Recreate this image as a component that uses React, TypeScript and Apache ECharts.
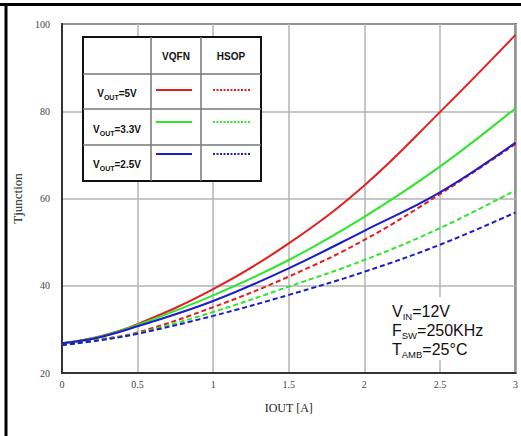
import React, { useEffect, useRef } from "react";
import * as echarts from "echarts";

const currents = [0, 0.25, 0.5, 1, 1.5, 2, 2.5, 3];
const vqfn5V = [26.8, 28.4, 31.2, 39.2, 49.7, 63.0, 79.8, 97.5];
const vqfn33V = [26.8, 28.3, 31.0, 37.8, 45.9, 55.8, 67.3, 80.7];
const vqfn25V = [26.8, 28.2, 30.7, 36.5, 44.0, 52.6, 61.4, 72.8];
const hsop5V = [26.4, 27.7, 29.3, 35.1, 42.1, 50.5, 61.0, 72.5];
const hsop33V = [26.4, 27.6, 29.1, 34.0, 39.8, 45.9, 53.2, 61.9];
const hsop25V = [26.4, 27.5, 29.0, 33.1, 37.9, 43.2, 49.4, 56.8];
const xTicks = { min: 0, max: 3, interval: 0.5 };
const yTicks = { min: 20, max: 100, interval: 20 };

const RED = "#e41e1e";
const GREEN = "#2ee62e";
const BLUE = "#1c1cc8";

const pairs = (ys: number[]) => currents.map((x, i) => [x, ys[i]]);

export default function App() {
  const ref = useRef<HTMLDivElement>(null);
  useEffect(() => {
    if (!ref.current) return;
    const chart = echarts.init(ref.current, null, { renderer: "svg" });
    const serif = "'Liberation Serif', 'DejaVu Serif', serif";
    const sans = "'Liberation Sans', Arial, sans-serif";
    const mk = (name: string, data: number[], color: string, dashed: boolean) => ({
      name,
      type: "line",
      data: pairs(data),
      smooth: 0.4,
      showSymbol: false,
      symbol: "none",
      lineStyle: { color, width: 2, type: dashed ? [5, 3] : "solid" },
      itemStyle: { color },
      z: dashed ? 3 : 4,
    });
    const rowText = (label: string, y: number) => ({
      type: "text",
      x: 117,
      y,
      z: 100,
      style: {
        text: `{a|V}{s|OUT}{a|=${label}}`,
        align: "center",
        verticalAlign: "middle",
        rich: {
          a: { fontSize: 10, fontWeight: "bold", fontFamily: sans, fill: "#111", lineHeight: 13, verticalAlign: "bottom" },
          s: { fontSize: 7, fontWeight: "bold", fontFamily: sans, fill: "#111", lineHeight: 13, verticalAlign: "bottom", padding: [0, 0, -2, 0] },
        },
      },
    });
    const sample = (x1: number, x2: number, y: number, color: string, dotted: boolean) => ({
      type: "line",
      z: 100,
      shape: { x1, y1: y, x2, y2: y },
      style: { stroke: color, lineWidth: 2, lineDash: dotted ? [2, 1.5] : undefined },
    });
    const cond = (main: string, sub: string, rest: string, y: number) => ({
      type: "text",
      x: 392,
      y,
      z: 100,
      style: {
        text: `{a|${main}}{s|${sub}}{a|${rest}}`,
        align: "left",
        verticalAlign: "middle",
        rich: {
          a: { fontSize: 16, fontFamily: sans, fill: "#111", lineHeight: 19, verticalAlign: "bottom" },
          s: { fontSize: 9.5, fontFamily: sans, fill: "#111", lineHeight: 19, verticalAlign: "bottom", padding: [0, 0, -2, 0] },
        },
      },
    });
    chart.setOption({
      animation: false,
      backgroundColor: "#ffffff",
      grid: { left: 62, right: 5, top: 24, bottom: 63, show: true, borderColor: "#333", borderWidth: 2, backgroundColor: "transparent" },
      xAxis: {
        type: "value",
        ...xTicks,
        name: "IOUT [A]",
        nameLocation: "middle",
        nameGap: 29,
        nameTextStyle: { fontFamily: serif, fontSize: 12, color: "#222" },
        axisLine: { show: true, lineStyle: { color: "#333", width: 2 } },
        axisTick: { show: false },
        axisLabel: { fontFamily: serif, fontSize: 10, color: "#444", margin: 6 },
        splitLine: { show: true, lineStyle: { color: "#b4b4b4", width: 1.5 } },
      },
      yAxis: {
        type: "value",
        ...yTicks,
        name: "Tjunction",
        nameLocation: "middle",
        nameGap: 38,
        nameRotate: 90,
        nameTextStyle: { fontFamily: serif, fontSize: 13, color: "#222" },
        axisLine: { show: true, lineStyle: { color: "#333", width: 2 } },
        axisTick: { show: false },
        axisLabel: { fontFamily: serif, fontSize: 10, color: "#444", margin: 12 },
        splitLine: { show: true, lineStyle: { color: "#b4b4b4", width: 1.5 } },
      },
      series: [
        mk("VQFN 5V", vqfn5V, RED, false),
        mk("VQFN 3.3V", vqfn33V, GREEN, false),
        mk("VQFN 2.5V", vqfn25V, BLUE, false),
        mk("HSOP 5V", hsop5V, RED, true),
        mk("HSOP 3.3V", hsop33V, GREEN, true),
        mk("HSOP 2.5V", hsop25V, BLUE, true),
      ],
      graphic: [
        // outer frame
        { type: "line", z: 200, shape: { x1: 0, y1: 4.5, x2: 521, y2: 4.5 }, style: { stroke: "#000", lineWidth: 3 } },
        { type: "line", z: 200, shape: { x1: 6, y1: 3, x2: 6, y2: 436 }, style: { stroke: "#000", lineWidth: 3 } },
        // legend table
        { type: "rect", z: 99, shape: { x: 83, y: 37, width: 178, height: 144 }, style: { fill: "#fff", stroke: "#111", lineWidth: 2 } },
        { type: "line", z: 100, shape: { x1: 151, y1: 37, x2: 151, y2: 181 }, style: { stroke: "#777", lineWidth: 1.5 } },
        { type: "line", z: 100, shape: { x1: 201, y1: 37, x2: 201, y2: 181 }, style: { stroke: "#777", lineWidth: 1.5 } },
        { type: "line", z: 100, shape: { x1: 83, y1: 74, x2: 261, y2: 74 }, style: { stroke: "#777", lineWidth: 1.5 } },
        { type: "line", z: 100, shape: { x1: 83, y1: 109, x2: 261, y2: 109 }, style: { stroke: "#777", lineWidth: 1.5 } },
        { type: "line", z: 100, shape: { x1: 83, y1: 145, x2: 261, y2: 145 }, style: { stroke: "#777", lineWidth: 1.5 } },
        { type: "text", x: 176, y: 56, z: 100, style: { text: "VQFN", align: "center", verticalAlign: "middle", fontSize: 10, fontWeight: "bold", fontFamily: sans, fill: "#111" } },
        { type: "text", x: 231, y: 56, z: 100, style: { text: "HSOP", align: "center", verticalAlign: "middle", fontSize: 10, fontWeight: "bold", fontFamily: sans, fill: "#111" } },
        rowText("5V", 92),
        rowText("3.3V", 128),
        rowText("2.5V", 163),
        sample(156, 192, 90, RED, false),
        sample(213, 250, 90, RED, true),
        sample(156, 192, 122, GREEN, false),
        sample(213, 250, 122, GREEN, true),
        sample(156, 192, 154, BLUE, false),
        sample(213, 250, 154, BLUE, true),
        // conditions box
        { type: "rect", z: 99, shape: { x: 387, y: 297, width: 106, height: 63 }, style: { fill: "#fff" } },
        cond("V", "IN", "=12V", 310),
        cond("F", "SW", "=250KHz", 329),
        cond("T", "AMB", "=25°C", 348),
      ],
    });
    return () => chart.dispose();
  }, []);
  return <div ref={ref} style={{ position: "fixed", left: 0, top: 0, width: 521, height: 436 }} />;
}
